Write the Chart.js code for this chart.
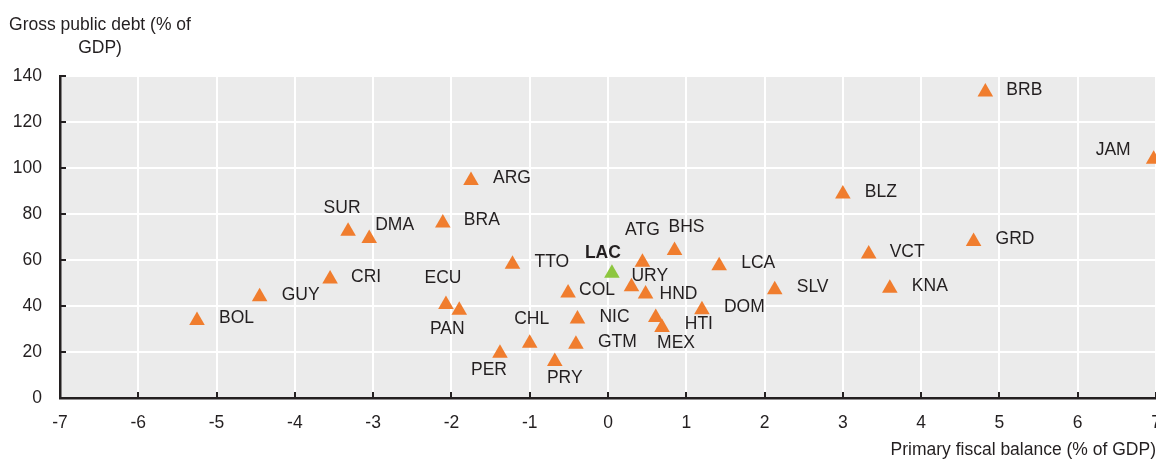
<!DOCTYPE html>
<html lang="en">
  <head>
    <meta charset="UTF-8" />
    <title>Primary fiscal balance vs gross public debt</title>
    <script src="https://cdn.jsdelivr.net/npm/chart.js@4.4.1/dist/chart.umd.min.js"></script>
    <style>
      html, body { margin: 0; padding: 0; background: #fff; }
      #wrap { width: 1156px; height: 461px; }
    </style>
  </head>
  <body>
    <div id="wrap"><canvas id="chart"></canvas></div>
    <script>
      // countries (orange) and the regional average (green)
      var codes = ['BOL', 'GUY', 'CRI', 'SUR', 'DMA', 'BRA', 'ECU', 'PAN', 'ARG', 'PER', 'TTO', 'CHL', 'PRY', 'COL', 'GTM', 'NIC',
        'URY', 'ATG', 'HND', 'HTI', 'MEX', 'BHS', 'DOM', 'LCA', 'SLV', 'BLZ', 'VCT', 'KNA', 'GRD', 'BRB', 'JAM'];
      var balance = [-5.25, -4.45, -3.55, -3.32, -3.05, -2.11, -2.07, -1.9, -1.75, -1.38, -1.22, -1.0, -0.68, -0.51, -0.41, -0.39,
        0.3, 0.44, 0.48, 0.61, 0.69, 0.85, 1.2, 1.42, 2.13, 3.0, 3.33, 3.6, 4.67, 4.82, 6.97];
      var debt = [33.7, 44.0, 51.7, 72.5, 69.4, 76.1, 40.7, 38.1, 94.6, 19.5, 58.2, 23.8, 15.9, 45.6, 23.4, 34.3,
        48.4, 59.0, 45.2, 35.0, 30.7, 64.1, 38.4, 57.5, 47.1, 88.7, 62.6, 47.7, 68.0, 133.0, 103.8];

      var lacCode = ['LAC'];
      var lacBalance = [0.05];
      var lacDebt = [54.2];

      var xTicks = [-7, -6, -5, -4, -3, -2, -1, 0, 1, 2, 3, 4, 5, 6, 7];
      var yTicks = [0, 20, 40, 60, 80, 100, 120, 140];

      // where each label sits relative to its marker: [dx, dy, align]
      var labelPos = {
        BOL: [22, -2, 'left'], GUY: [22, -2, 'left'], CRI: [21, -2, 'left'], SUR: [-6, -23, 'center'],
        DMA: [6, -13, 'left'], BRA: [21, -3, 'left'], ECU: [-3, -26, 'center'], PAN: [-12, 19, 'center'],
        ARG: [22, -2, 'left'], PER: [-11, 17, 'center'], TTO: [22, -2, 'left'], CHL: [2, -24, 'center'],
        PRY: [10, 17, 'center'], COL: [11, -3, 'left'], GTM: [22, -2, 'left'], NIC: [22, -2, 'left'],
        LAC: [-9, -20, 'center'], URY: [0, -11, 'left'], ATG: [0, -32, 'center'], HND: [14, 0, 'left'],
        HTI: [29, 7, 'left'], MEX: [14, 16, 'center'], BHS: [12, -23, 'center'], DOM: [22, -3, 'left'],
        LCA: [22, -3, 'left'], SLV: [22, -2, 'left'], BLZ: [22, -2, 'left'], VCT: [21, -2, 'left'],
        KNA: [22, -2, 'left'], GRD: [22, -2, 'left'], BRB: [21, -2, 'left'], JAM: [-23, -9, 'right']
      };

      var FONT = "'Liberation Sans', Arial, Helvetica, sans-serif";
      var FSIZE = 17.5;
      var INK = '#231f20';

      function points(xs, ys) {
        return xs.map((x, i) => ({ x: x, y: ys[i] }));
      }

      var decor = {
        id: 'decor',
        beforeDraw(chart) {
          var a = chart.chartArea, ctx = chart.ctx;
          ctx.save();
          ctx.fillStyle = '#ebebeb';
          ctx.fillRect(a.left, a.top, a.right - a.left, a.bottom - a.top);
          ctx.restore();
        },
        afterDraw(chart) {
          var ctx = chart.ctx, a = chart.chartArea;
          var xs = chart.scales.x, ys = chart.scales.y;
          ctx.save();
          // short inward ticks
          ctx.strokeStyle = INK;
          ctx.lineWidth = 2;
          ctx.beginPath();
          yTicks.forEach((v) => {
            var py = Math.round(ys.getPixelForValue(v));
            ctx.moveTo(a.left, py);
            ctx.lineTo(a.left + 6, py);
          });
          xTicks.forEach((v) => {
            var px = Math.round(xs.getPixelForValue(v));
            ctx.moveTo(px, a.bottom);
            ctx.lineTo(px, a.bottom - 6);
          });
          ctx.stroke();

          // y axis title, placed above the axis
          ctx.fillStyle = INK;
          ctx.font = FSIZE + 'px ' + FONT;
          ctx.textAlign = 'center';
          ctx.textBaseline = 'middle';
          ctx.fillText('Gross public debt (% of', 100, 25);
          ctx.fillText('GDP)', 100, 48);

          // point labels
          chart.data.datasets.forEach((ds, di) => {
            var meta = chart.getDatasetMeta(di);
            meta.data.forEach((el, i) => {
              var code = ds.codes[i];
              var p = labelPos[code] || [20, 0, 'left'];
              ctx.font = (code === 'LAC' ? 'bold ' : '') + FSIZE + 'px ' + FONT;
              ctx.textAlign = p[2];
              ctx.fillText(code, el.x + p[0], el.y + p[1]);
            });
          });
          ctx.restore();
        }
      };

      new Chart(document.getElementById('chart'), {
        type: 'scatter',
        data: {
          datasets: [
            {
              label: 'Countries',
              codes: codes,
              data: points(balance, debt),
              pointStyle: 'triangle',
              pointRadius: 9,
              pointHoverRadius: 9,
              backgroundColor: '#f07d2e',
              borderWidth: 0
            },
            {
              label: 'LAC',
              codes: lacCode,
              data: points(lacBalance, lacDebt),
              pointStyle: 'triangle',
              pointRadius: 9,
              pointHoverRadius: 9,
              backgroundColor: '#8dc63f',
              borderWidth: 0
            }
          ]
        },
        options: {
          responsive: true,
          maintainAspectRatio: false,
          animation: false,
          layout: { autoPadding: false, padding: { top: 76, right: 0, left: 0, bottom: 0 } },
          plugins: {
            legend: { display: false },
            tooltip: { enabled: false }
          },
          scales: {
            x: {
              type: 'linear',
              min: -7,
              max: 7,
              afterBuildTicks: (s) => { s.ticks = xTicks.map((v) => ({ value: v })); },
              afterFit: (s) => { s.paddingLeft = 0; s.paddingRight = 0; s.height = 63; },
              ticks: { color: INK, font: { family: FONT, size: FSIZE }, padding: 15, maxRotation: 0, autoSkip: false },
              grid: { color: '#ffffff', lineWidth: 2, drawTicks: false },
              border: { color: INK, width: 2.5 },
              title: {
                display: true,
                text: 'Primary fiscal balance (% of GDP)',
                align: 'end',
                color: INK,
                font: { family: FONT, size: FSIZE },
                padding: { top: 2, bottom: 0 }
              }
            },
            y: {
              type: 'linear',
              min: 0,
              max: 140,
              afterBuildTicks: (s) => { s.ticks = yTicks.map((v) => ({ value: v })); },
              afterFit: (s) => { s.paddingTop = 0; s.paddingBottom = 0; s.width = 60; },
              ticks: { color: INK, font: { family: FONT, size: FSIZE }, padding: 18 },
              grid: { color: '#ffffff', lineWidth: 2, drawTicks: false },
              border: { color: INK, width: 2.5 }
            }
          }
        },
        plugins: [decor]
      });
    </script>
  </body>
</html>
